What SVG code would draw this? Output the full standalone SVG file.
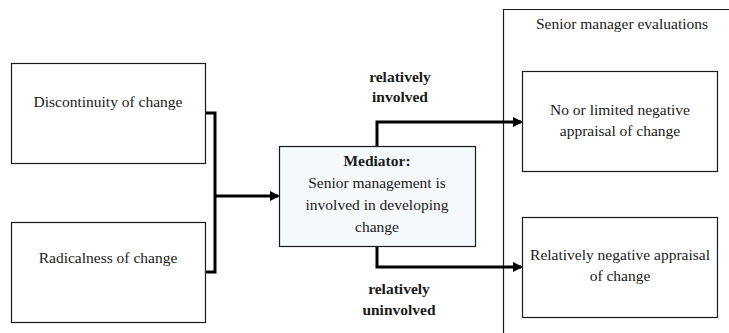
<svg xmlns="http://www.w3.org/2000/svg" width="729" height="333" viewBox="0 0 729 333" font-family="'Liberation Serif', 'Times New Roman', 'DejaVu Serif', serif">
<style>
.box{fill:#ffffff;stroke:#1a1a1a;stroke-width:1.2}
.med{fill:#f6f9fb;stroke:#1a1a1a;stroke-width:1.2}
text{font-family:'Liberation Serif','Times New Roman','DejaVu Serif',serif;font-size:15.5px;fill:#1a1a1a;text-anchor:middle}
.b{font-weight:bold}
.c{fill:none;stroke:#000;stroke-width:3}
</style>
<defs>
<marker id="ah" markerWidth="10" markerHeight="10" refX="8" refY="5" orient="auto" markerUnits="userSpaceOnUse">
<path d="M0,0 L10,5 L0,10 Z" fill="#000"/>
</marker>
</defs>
<rect x="0" y="0" width="729" height="333" fill="#fff"/>
<g id="container">
<path d="M503.5,340 V9.5 H735" fill="none" stroke="#1a1a1a" stroke-width="1.2"/>
<text x="622" y="29">Senior manager evaluations</text>
</g>
<g id="discontinuity">
<rect class="box" x="11.5" y="63.5" width="194" height="100"/>
<text x="108" y="107">Discontinuity of change</text>
</g>
<g id="radicalness">
<rect class="box" x="11.5" y="222.5" width="194" height="100"/>
<text x="108" y="263">Radicalness of change</text>
</g>
<g id="mediator">
<rect class="med" x="279.5" y="146.5" width="196" height="100"/>
<text class="b" x="377" y="166">Mediator:</text>
<text x="377" y="188">Senior management is</text>
<text x="377" y="210">involved in developing</text>
<text x="377" y="232">change</text>
</g>
<g id="limited">
<rect class="box" x="522.5" y="71.5" width="195" height="100"/>
<text x="620" y="115">No or limited negative</text>
<text x="620" y="136">appraisal of change</text>
</g>
<g id="negative">
<rect class="box" x="522.5" y="217.5" width="195" height="100"/>
<text x="620" y="260">Relatively negative appraisal</text>
<text x="620" y="281">of change</text>
</g>
<g id="connectors">
<path class="c" d="M206,113 H215 V272 H206"/>
<path class="c" d="M215,196 H278" marker-end="url(#ah)"/>
<path class="c" d="M377,146 V122 H521" marker-end="url(#ah)"/>
<path class="c" d="M377,247 V267 H521" marker-end="url(#ah)"/>
<text class="b" x="400" y="82">relatively</text>
<text class="b" x="400" y="102">involved</text>
<text class="b" x="399" y="294">relatively</text>
<text class="b" x="399" y="315">uninvolved</text>
</g>
</svg>
